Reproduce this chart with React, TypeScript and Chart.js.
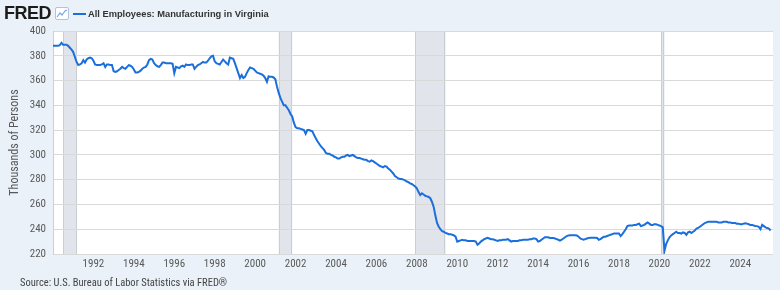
import React, { useEffect, useRef } from "react";
import { Chart, registerables } from "chart.js";

Chart.register(...registerables);

const START_YEAR = 1990;

// Monthly values, thousands of persons (Jan 1990 onward)
const values1990s = [
  388, 388, 388, 388, 388.5, 390.5, 389, 389, 389, 388, 386.5, 385,
  383, 379, 375, 372.5, 373, 374, 376.5, 374.5, 377, 378, 378.5, 378,
  376, 373, 372.5, 372.5, 372.5, 373, 374, 371, 373, 373, 372.5, 372.5,
  367.5, 367, 367.5, 368.5, 369.5, 371, 370, 369.5, 371, 372.5, 372, 371,
  369, 366.5, 366.5, 367, 368, 369.5, 370.5, 371, 373, 376.5, 377.5, 377,
  374, 372.5, 371.5, 371, 372.5, 374.5, 374.5, 374, 374, 374, 374, 373.5,
  366, 371, 370.5, 370, 371.5, 372, 371, 373, 372.5, 372.5, 373, 373,
  369.5, 371, 372.5, 373, 374, 375, 374.5, 374.5, 376, 378, 379.5, 380,
  375.5, 374, 373.5, 373, 375, 377, 375.5, 374, 373, 378.5, 378, 377.5,
  374, 370, 366, 362, 364.5, 362, 363, 366, 368.5, 370.5, 370, 369.5,
];
const values2000s = [
  368, 366.5, 366, 365.5, 365, 364, 362, 359, 363.5, 363, 363, 362.5,
  361, 355, 350, 346, 343, 340, 340, 338, 336, 333, 331, 326,
  322.5, 321.5, 321.5, 321, 320.5, 320, 317, 320, 320, 319.5, 319, 316,
  313.5, 311, 309, 307, 305.5, 304, 301.5, 301, 301, 300, 299.5, 298.5,
  298, 297, 297, 298, 298.5, 298.5, 299.5, 300, 299, 299.5, 300, 299,
  298, 297.5, 297.5, 297, 296.5, 296, 296, 295, 294.5, 295.5, 295, 294,
  293, 292, 291, 290.5, 290, 291, 290.5, 289, 288, 286.5, 285, 283,
  282, 281, 280.5, 280.5, 280, 279.5, 278.5, 278, 277, 276.5, 275.5, 274.5,
  273, 270, 267.5, 269, 268, 267, 266.5, 266, 265, 262, 258, 251,
  245, 242, 240, 238.5, 238, 237, 236.5, 236, 236, 235.5, 235, 234,
];
const values2010s = [
  230, 230.5, 231, 231.5, 231, 231, 230.5, 230.5, 230.5, 230.5, 230.5, 230,
  227.5, 228.5, 230, 231, 232, 232.5, 233, 232.5, 232, 232, 231.5, 231,
  230.5, 231, 231, 231.5, 231.5, 231.5, 232, 231, 230, 230.5, 230.5, 230.5,
  230.5, 231, 231, 231.5, 231.5, 231.5, 231.5, 232, 232, 232.5, 232.5, 232,
  230, 230.5, 231.5, 232.5, 233.5, 233.5, 233.5, 233, 233, 233, 232.5, 232,
  231.5, 230.8, 231.5, 232.5, 233.5, 234.5, 235, 235.2, 235.2, 235.2, 235.2, 235,
  234, 232.5, 232, 231.5, 232, 232.5, 233, 233.2, 233.2, 233.2, 233.2, 233,
  231.5, 232, 233, 234, 234, 234.5, 235, 235.5, 236, 236.5, 236.5, 236.5,
  236.5, 234.5, 236, 238, 240, 242.5, 243, 243, 243, 243.5, 243.5, 244,
  244.5, 242.5, 243, 243.5, 244.5, 245.5, 244.5, 243.5, 243.5, 244, 244, 243.5,
];
const values2020s = [
  243, 242.5, 241.5, 222.5, 228, 231, 233.5, 235, 236, 237, 238, 237,
  237, 236.5, 237.5, 237, 235.5, 237.5, 238, 237, 238, 239, 240.5, 241,
  242, 243, 244, 245, 245.5, 246, 246, 246, 246, 246, 246, 245.5,
  245.5, 245.5, 246, 246, 246, 245.5, 245.5, 245, 245, 245, 244.5, 244.5,
  244, 244, 244.5, 244.8, 244.5, 244, 243.5, 243.5, 243, 242.6, 242.5, 242,
  240, 243.5, 242.5, 241.5, 241, 240.5, 239,
];

const recessionStart = [1990.5, 2001.167, 2007.917, 2020.083];
const recessionEnd = [1991.167, 2001.833, 2009.417, 2020.25];

const xTickYears = [1992, 1994, 1996, 1998, 2000, 2002, 2004, 2006, 2008, 2010, 2012, 2014, 2016, 2018, 2020, 2022, 2024];
const yTickValues = [220, 240, 260, 280, 300, 320, 340, 360, 380, 400];

const X_MIN = 1990;
const X_MAX = 2025.62;

const LINE_COLOR = "#1a6fdc";
const BG = "#eaf1f8";
const NARROW = "'Liberation Sans Narrow', 'Roboto Condensed', 'DejaVu Sans Condensed', Roboto, sans-serif";

const allValues = [...values1990s, ...values2000s, ...values2010s, ...values2020s];
const points = allValues.map((v, i) => ({ x: START_YEAR + i / 12, y: v }));

const bandsPlugin = {
  id: "bands",
  beforeDraw(chart: any) {
    const { ctx, chartArea, scales } = chart;
    ctx.save();
    ctx.fillStyle = "#ffffff";
    ctx.fillRect(chartArea.left, chartArea.top, chartArea.right - chartArea.left, chartArea.bottom - chartArea.top);
    for (let i = 0; i < recessionStart.length; i++) {
      const x0 = scales.x.getPixelForValue(recessionStart[i]);
      const x1 = scales.x.getPixelForValue(recessionEnd[i]);
      ctx.fillStyle = "#e1e5eb";
      ctx.fillRect(x0, chartArea.top, x1 - x0, chartArea.bottom - chartArea.top);
      ctx.strokeStyle = "#c9cdd4";
      ctx.lineWidth = 1;
      ctx.beginPath();
      ctx.moveTo(Math.round(x0) + 0.5, chartArea.top);
      ctx.lineTo(Math.round(x0) + 0.5, chartArea.bottom);
      ctx.moveTo(Math.round(x1) - 0.5, chartArea.top);
      ctx.lineTo(Math.round(x1) - 0.5, chartArea.bottom);
      ctx.stroke();
    }
    ctx.restore();
  },
};

function FredIcon() {
  return (
    <svg width="14" height="13" viewBox="0 0 14 13" style={{ position: "absolute", left: 55, top: 7 }}>
      <rect x="0.5" y="0.5" width="13" height="12" rx="1.5" fill="#ffffff" stroke="#a9c4e4" />
      <polyline points="2,10 5,6 7,8 10,4 12,3" fill="none" stroke="#7aa6db" strokeWidth="1.2" />
    </svg>
  );
}

export default function App() {
  const canvasRef = useRef<HTMLCanvasElement | null>(null);

  useEffect(() => {
    document.body.style.margin = "0";
    const canvas = canvasRef.current;
    if (!canvas) return;
    const chart = new Chart(canvas, {
      type: "line",
      data: {
        datasets: [
          {
            label: "All Employees: Manufacturing in Virginia",
            data: points,
            borderColor: LINE_COLOR,
            borderWidth: 2,
            pointRadius: 0,
            tension: 0,
            fill: false,
          },
        ],
      },
      options: {
        animation: false,
        responsive: false,
        maintainAspectRatio: false,
        parsing: false as any,
        layout: { padding: { left: 0, top: 31, right: 7, bottom: 0 } },
        plugins: { legend: { display: false }, tooltip: { enabled: false } },
        scales: {
          x: {
            type: "linear",
            min: X_MIN,
            max: X_MAX,
            afterBuildTicks: (scale: any) => {
              scale.ticks = xTickYears.map((v) => ({ value: v }));
            },
            afterFit: (scale: any) => {
              scale.height = 36;
            },
            grid: { display: false, drawTicks: false },
            border: { display: false },
            ticks: {
              autoSkip: false,
              maxRotation: 0,
              padding: 4,
              color: "#595959",
              font: { family: NARROW, size: 11 },
              callback: (v: any) => String(v),
            },
          },
          y: {
            type: "linear",
            min: 220,
            max: 400,
            afterBuildTicks: (scale: any) => {
              scale.ticks = yTickValues.map((v) => ({ value: v }));
            },
            afterFit: (scale: any) => {
              scale.width = 53;
            },
            grid: { color: "#d9d9d9", lineWidth: 1, drawTicks: false },
            border: { display: true, color: "#cfcfcf" },
            ticks: {
              padding: 7,
              color: "#595959",
              font: { family: NARROW, size: 11 },
              callback: (v: any) => String(v),
            },
            title: {
              display: true,
              text: "Thousands of Persons",
              color: "#595959",
              font: { family: NARROW, size: 12 },
              padding: { top: 8, bottom: 0 },
            },
          },
        },
      },
      plugins: [bandsPlugin],
    });
    return () => chart.destroy();
  }, []);

  return (
    <div style={{ position: "fixed", left: 0, top: 0, width: 780, height: 290, background: BG, overflow: "hidden" }}>
      <canvas ref={canvasRef} width={780} height={290} style={{ position: "absolute", left: 0, top: 0, width: 780, height: 290 }} />
      <div style={{ position: "absolute", left: 4, top: 3, font: "bold 18px 'Liberation Sans', Arial, sans-serif", color: "#1b1b1b", letterSpacing: "-0.5px", lineHeight: "20px" }}>
        FRED
      </div>
      <FredIcon />
      <div style={{ position: "absolute", left: 73, top: 13, width: 13, height: 2, background: LINE_COLOR }} />
      <div style={{ position: "absolute", left: 88, top: 8, font: "bold 9.3px 'Liberation Sans', Arial, sans-serif", color: "#333333", lineHeight: "12px", whiteSpace: "nowrap" }}>
        All Employees: Manufacturing in Virginia
      </div>
      <div style={{ position: "absolute", left: 20, top: 276, font: "10.5px " + NARROW, color: "#444444", lineHeight: "14px", whiteSpace: "nowrap" }}>
        Source: U.S. Bureau of Labor Statistics via FRED®
      </div>
    </div>
  );
}
